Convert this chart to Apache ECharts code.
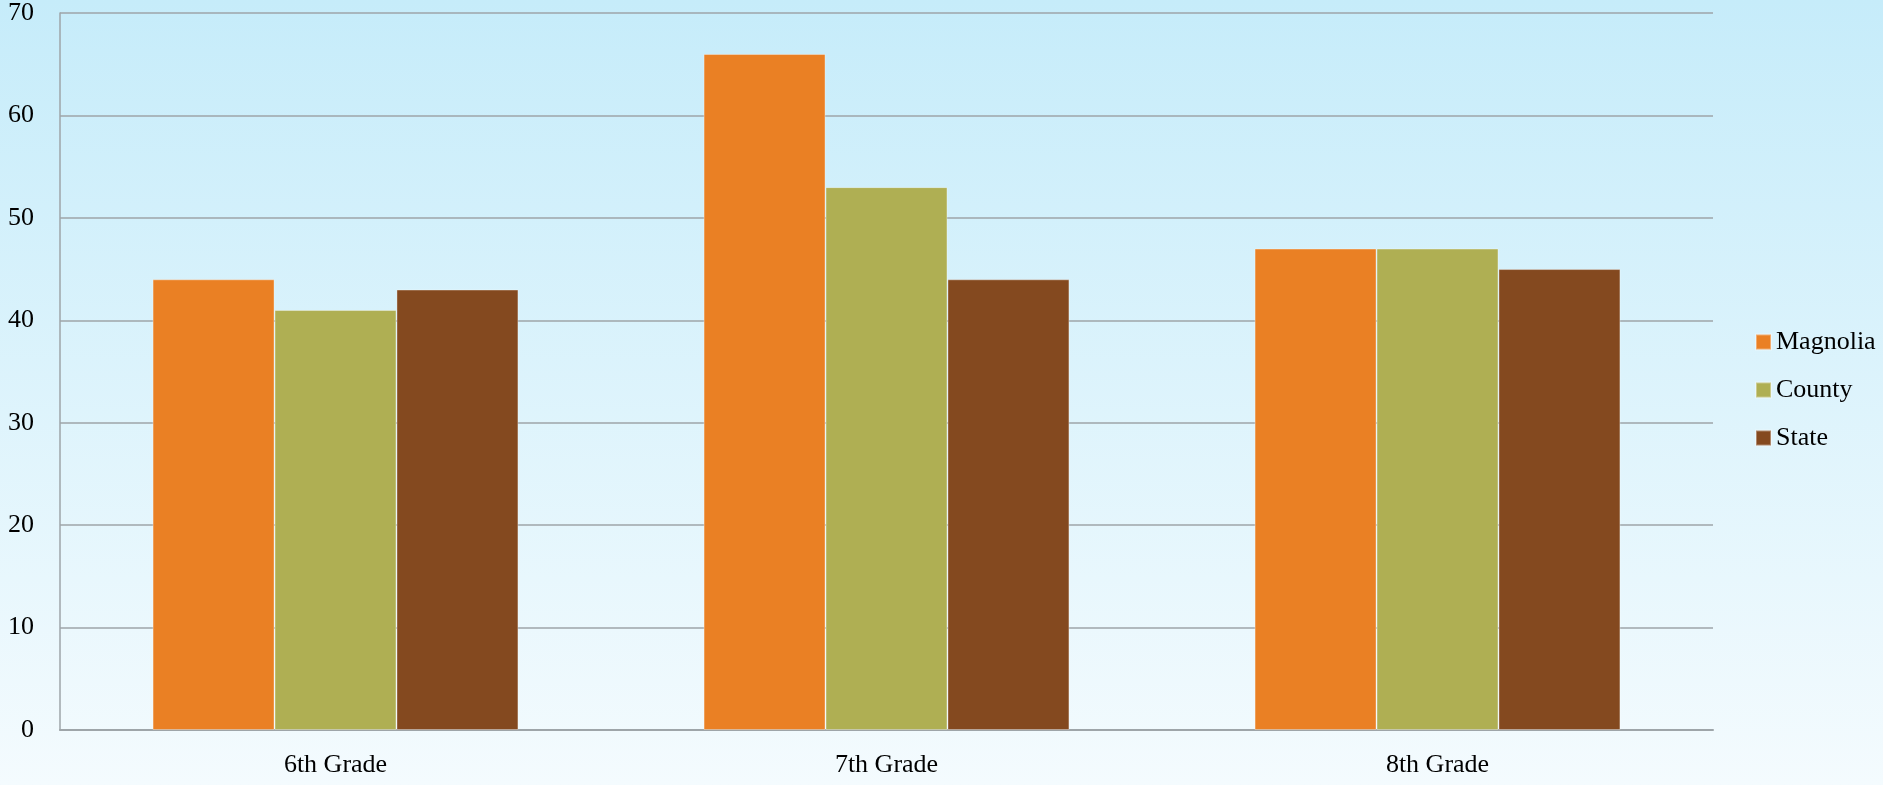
<!DOCTYPE html>
<html>
<head>
    <meta charset="utf-8"/>
    <style>
        html, body {
            height: 100%;
            margin: 0;
            padding: 0;
        }

        .container {
            width: 1883px;
            height: 785px;
        }
    </style>
</head>
<body>
<div id="main" class="container"></div>
<script src="https://cdn.jsdelivr.net/npm/echarts@6/dist/echarts.min.js"></script>
<script type="text/javascript">
// chart data
var categories = ['6th Grade', '7th Grade', '8th Grade'];
var magnolia = [44, 66, 47];
var county = [41, 53, 47];
var state = [43, 44, 45];
var yTicks = [0, 10, 20, 30, 40, 50, 60, 70];

var fontFamily = "'Liberation Serif', 'DejaVu Serif', serif";
var textColor = '#000';
var gridLineColor = '#9ea5a9';

var myChart = echarts.init(document.getElementById('main'));

function makeSeries(name, data, color) {
    return {
        name: name,
        type: 'bar',
        data: data,
        barGap: 0,
        barCategoryGap: '33.6%',
        itemStyle: {
            color: color,
            borderColor: 'rgba(255,255,255,0.35)',
            borderWidth: 1
        }
    };
}

var option = {
    backgroundColor: {
        type: 'linear', x: 0, y: 0, x2: 0, y2: 1,
        colorStops: [
            {offset: 0, color: '#c6ecfa'},
            {offset: 1, color: '#f4fbfe'}
        ]
    },
    textStyle: {fontFamily: fontFamily},
    legend: {
        orient: 'vertical',
        left: 1755,
        top: 329,
        padding: 0,
        itemWidth: 15,
        itemHeight: 15,
        itemGap: 22,
        icon: 'rect',
        selectedMode: false,
        textStyle: {color: textColor, fontSize: 26, fontFamily: fontFamily},
        data: ['Magnolia', 'County', 'State']
    },
    grid: {
        left: 60,
        top: 12,
        right: 170,
        bottom: 55
    },
    xAxis: {
        type: 'category',
        data: categories,
        axisLine: {lineStyle: {color: gridLineColor, width: 2}},
        axisTick: {show: false},
        axisLabel: {color: textColor, fontSize: 26, fontFamily: fontFamily, margin: 22}
    },
    yAxis: {
        type: 'value',
        min: yTicks[0],
        max: yTicks[yTicks.length - 1],
        interval: 10,
        axisLine: {show: true, lineStyle: {color: gridLineColor, width: 1.5}},
        axisTick: {show: false},
        splitLine: {lineStyle: {color: gridLineColor, width: 1.5}},
        axisLabel: {color: textColor, fontSize: 26, fontFamily: fontFamily, margin: 26}
    },
    series: [
        makeSeries('Magnolia', magnolia, '#ea8024'),
        makeSeries('County', county, '#afaf53'),
        makeSeries('State', state, '#84491f')
    ]
};

myChart.setOption(option);
</script>
</body>
</html>
